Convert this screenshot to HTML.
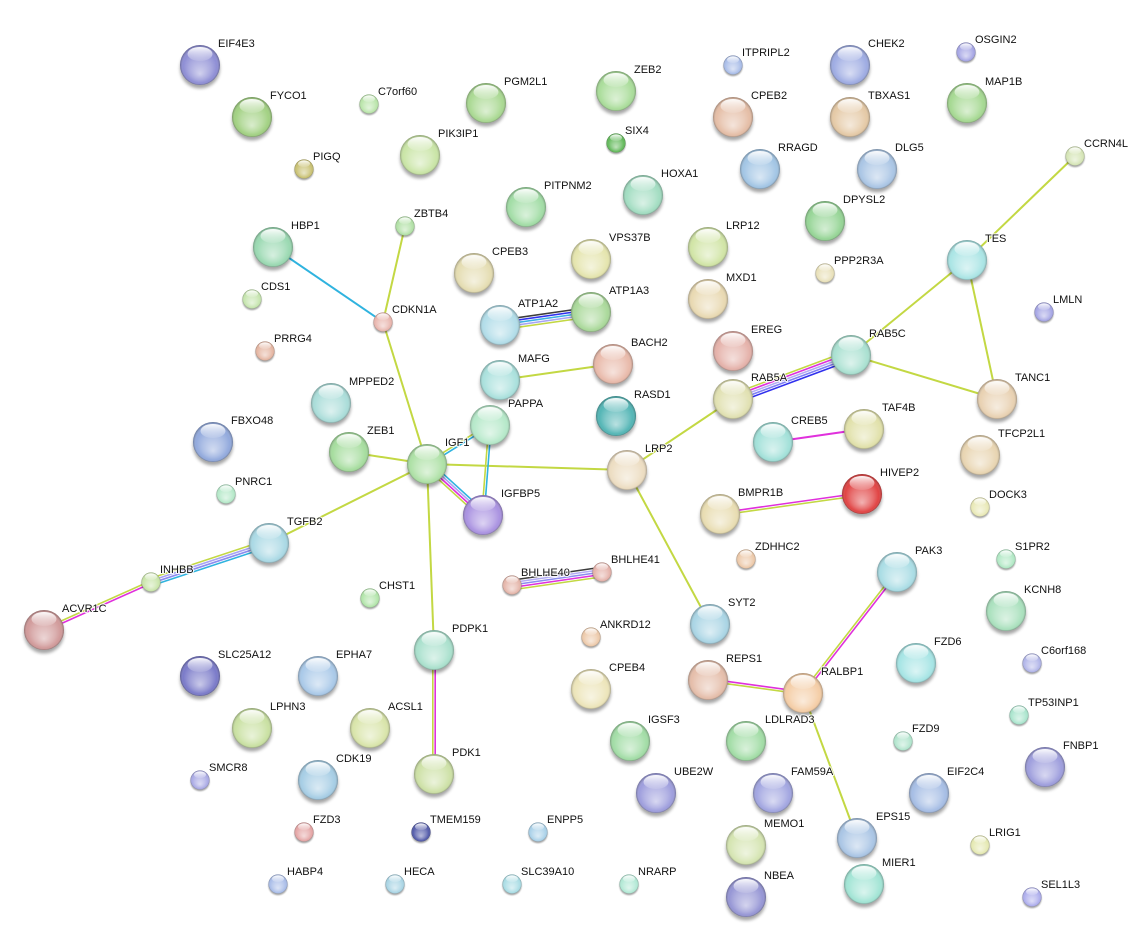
<!DOCTYPE html>
<html><head><meta charset="utf-8"><style>
html,body{margin:0;padding:0;background:#fff;}
svg{display:block;}
text{font-family:"Liberation Sans",Arial,sans-serif;font-size:11px;fill:#111;stroke:#fff;stroke-width:2.2px;stroke-opacity:0.85;paint-order:stroke;stroke-linejoin:round;}
</style></head><body>
<svg width="1146" height="942" viewBox="0 0 1146 942" xmlns="http://www.w3.org/2000/svg">
<defs>
<filter id="bl" x="-50%" y="-50%" width="200%" height="200%"><feGaussianBlur stdDeviation="1.6"/></filter>
<radialGradient id="o" cx="0.5" cy="0.5" r="0.5" fx="0.5" fy="0.72">
<stop offset="0" stop-color="#fff" stop-opacity="0.6"/>
<stop offset="0.55" stop-color="#fff" stop-opacity="0.25"/>
<stop offset="0.84" stop-color="#fff" stop-opacity="0.02"/>
<stop offset="1" stop-color="#000" stop-opacity="0.3"/>
</radialGradient>
<linearGradient id="h" x1="0" y1="0" x2="0" y2="1">
<stop offset="0" stop-color="#fff" stop-opacity="0.95"/>
<stop offset="1" stop-color="#fff" stop-opacity="0.1"/>
</linearGradient>
<g id="n">
<circle cy="3.5" r="20" fill="#000" opacity="0.35" filter="url(#bl)"/>
<circle r="20" fill="currentColor"/>
<circle r="20" fill="url(#o)"/>
<ellipse cy="-11" rx="12.5" ry="7" fill="url(#h)"/>
</g>
</defs>

<!-- edges -->
<g stroke-width="2" fill="none" stroke-linecap="butt">
<g stroke="#c3d843">
<line x1="405" y1="226" x2="383" y2="322"/>
<line x1="383" y1="322" x2="427" y2="464"/>
<line x1="500" y1="380" x2="613" y2="364"/>
<line x1="349" y1="452" x2="427" y2="464"/>
<line x1="427" y1="464" x2="627" y2="470"/>
<line x1="427" y1="464" x2="269" y2="543"/>
<line x1="427" y1="464" x2="434" y2="650"/>
<line x1="627" y1="470" x2="733" y2="399"/>
<line x1="627" y1="470" x2="710" y2="624"/>
<line x1="851" y1="355" x2="997" y2="399"/>
<line x1="851" y1="355" x2="967" y2="260"/>
<line x1="967" y1="260" x2="1075" y2="156"/>
<line x1="967" y1="260" x2="997" y2="399"/>
<line x1="803" y1="693" x2="857" y2="838"/>
</g>
<line x1="273" y1="247" x2="383" y2="322" stroke="#2fb3df"/>
<line x1="773" y1="442" x2="864" y2="429" stroke="#e030dc"/>
</g>

<g stroke-width="1.6" fill="none">
<g transform="translate(500,325) rotate(-8.13)">
<line x1="0" y1="-4.8" x2="92" y2="-4.8" stroke="#3c3c3c"/>
<line x1="0" y1="-2.4" x2="92" y2="-2.4" stroke="#3030ee"/>
<line x1="0" y1="0" x2="92" y2="0" stroke="#3cb0e4"/>
<line x1="0" y1="2.4" x2="92" y2="2.4" stroke="#a8a4f4"/>
<line x1="0" y1="4.8" x2="92" y2="4.8" stroke="#c3d843"/>
</g>
<g transform="translate(490,425) rotate(94.45)">
<line x1="0" y1="-1.2" x2="90" y2="-1.2" stroke="#2fb3df"/>
<line x1="0" y1="1.2" x2="90" y2="1.2" stroke="#c3d843"/>
</g>
<g transform="translate(427,464) rotate(-31.76)">
<line x1="0" y1="-1.2" x2="74" y2="-1.2" stroke="#c3d843"/>
<line x1="0" y1="1.2" x2="74" y2="1.2" stroke="#2fb3df"/>
</g>
<g transform="translate(427,464) rotate(42.32)">
<line x1="0" y1="-3.6" x2="76" y2="-3.6" stroke="#2fb3df"/>
<line x1="0" y1="-1.2" x2="76" y2="-1.2" stroke="#a8a4f4"/>
<line x1="0" y1="1.2" x2="76" y2="1.2" stroke="#e030dc"/>
<line x1="0" y1="3.6" x2="76" y2="3.6" stroke="#c3d843"/>
</g>
<g transform="translate(269,543) rotate(161.71)">
<line x1="0" y1="3.6" x2="124" y2="3.6" stroke="#c3d843"/>
<line x1="0" y1="1.2" x2="124" y2="1.2" stroke="#a8a4f4"/>
<line x1="0" y1="-1.2" x2="124" y2="-1.2" stroke="#8c8cf0"/>
<line x1="0" y1="-3.6" x2="124" y2="-3.6" stroke="#2fb3df"/>
</g>
<g transform="translate(151,582) rotate(155.84)">
<line x1="0" y1="1.2" x2="117" y2="1.2" stroke="#c3d843"/>
<line x1="0" y1="-1.2" x2="117" y2="-1.2" stroke="#e030dc"/>
</g>
<g transform="translate(434,650) rotate(90)">
<line x1="0" y1="1.2" x2="124" y2="1.2" stroke="#c3d843"/>
<line x1="0" y1="-1.2" x2="124" y2="-1.2" stroke="#e030dc"/>
</g>
<g transform="translate(733,399) rotate(-20.45)">
<line x1="0" y1="-4.8" x2="126" y2="-4.8" stroke="#c3d843"/>
<line x1="0" y1="-2.4" x2="126" y2="-2.4" stroke="#e030dc"/>
<line x1="0" y1="0" x2="126" y2="0" stroke="#b4acf4"/>
<line x1="0" y1="2.4" x2="126" y2="2.4" stroke="#8080f4"/>
<line x1="0" y1="4.8" x2="126" y2="4.8" stroke="#3030ee"/>
</g>
<g transform="translate(720,514) rotate(-8.02)">
<line x1="0" y1="-1.2" x2="143" y2="-1.2" stroke="#e030dc"/>
<line x1="0" y1="1.2" x2="143" y2="1.2" stroke="#c3d843"/>
</g>
<g transform="translate(512,585) rotate(-8.22)">
<line x1="0" y1="-4.8" x2="91" y2="-4.8" stroke="#3c3c3c"/>
<line x1="0" y1="-2.4" x2="91" y2="-2.4" stroke="#b4acf4"/>
<line x1="0" y1="0" x2="91" y2="0" stroke="#8c8cf0"/>
<line x1="0" y1="2.4" x2="91" y2="2.4" stroke="#e030dc"/>
<line x1="0" y1="4.8" x2="91" y2="4.8" stroke="#c3d843"/>
</g>
<g transform="translate(897,572) rotate(127.84)">
<line x1="0" y1="1.2" x2="153" y2="1.2" stroke="#c3d843"/>
<line x1="0" y1="-1.2" x2="153" y2="-1.2" stroke="#e030dc"/>
</g>
<g transform="translate(708,680) rotate(7.79)">
<line x1="0" y1="-1.2" x2="96" y2="-1.2" stroke="#e030dc"/>
<line x1="0" y1="1.2" x2="96" y2="1.2" stroke="#c3d843"/>
</g>
</g>

<!-- nodes -->
<use href="#n" transform="translate(200,65)" color="#8c8cd4"/>
<use href="#n" transform="translate(252,117)" color="#a0d080"/>
<use href="#n" transform="translate(369,104) scale(0.48)" color="#b8e4a8"/>
<use href="#n" transform="translate(486,103)" color="#a8d890"/>
<use href="#n" transform="translate(616,91)" color="#a8dc98"/>
<use href="#n" transform="translate(733,65) scale(0.48)" color="#a8bce8"/>
<use href="#n" transform="translate(850,65)" color="#9caae2"/>
<use href="#n" transform="translate(966,52) scale(0.48)" color="#a4a4e4"/>
<use href="#n" transform="translate(967,103)" color="#a4d890"/>
<use href="#n" transform="translate(733,117)" color="#e4bca4"/>
<use href="#n" transform="translate(850,117)" color="#e4c8a4"/>
<use href="#n" transform="translate(304,169) scale(0.48)" color="#c8c070"/>
<use href="#n" transform="translate(420,155)" color="#c8e4a4"/>
<use href="#n" transform="translate(616,143) scale(0.48)" color="#60b858"/>
<use href="#n" transform="translate(643,195)" color="#a0dcc0"/>
<use href="#n" transform="translate(760,169)" color="#a0c4e4"/>
<use href="#n" transform="translate(877,169)" color="#a8c4e4"/>
<use href="#n" transform="translate(1075,156) scale(0.48)" color="#d4e4b4"/>
<use href="#n" transform="translate(526,207)" color="#a0dca4"/>
<use href="#n" transform="translate(825,221)" color="#94d494"/>
<use href="#n" transform="translate(405,226) scale(0.48)" color="#b0e0a4"/>
<use href="#n" transform="translate(273,247)" color="#98d8b0"/>
<use href="#n" transform="translate(708,247)" color="#d0e4a4"/>
<use href="#n" transform="translate(591,259)" color="#e4e4ac"/>
<use href="#n" transform="translate(474,273)" color="#e4dcb0"/>
<use href="#n" transform="translate(967,260)" color="#a8e4e4"/>
<use href="#n" transform="translate(825,273) scale(0.48)" color="#e8e0b8"/>
<use href="#n" transform="translate(708,299)" color="#e8d8b0"/>
<use href="#n" transform="translate(252,299) scale(0.48)" color="#c4e4ac"/>
<use href="#n" transform="translate(500,325)" color="#b0dce8"/>
<use href="#n" transform="translate(591,312)" color="#a8d898"/>
<use href="#n" transform="translate(1044,312) scale(0.48)" color="#a4a4e4"/>
<use href="#n" transform="translate(383,322) scale(0.48)" color="#e8b4ac"/>
<use href="#n" transform="translate(265,351) scale(0.48)" color="#e4b4a0"/>
<use href="#n" transform="translate(733,351)" color="#e4b0a8"/>
<use href="#n" transform="translate(851,355)" color="#a8e0d0"/>
<use href="#n" transform="translate(613,364)" color="#e8b8a8"/>
<use href="#n" transform="translate(500,380)" color="#a8e0dc"/>
<use href="#n" transform="translate(331,403)" color="#a8dcd8"/>
<use href="#n" transform="translate(733,399)" color="#e0e0b0"/>
<use href="#n" transform="translate(997,399)" color="#e8d0b0"/>
<use href="#n" transform="translate(616,416)" color="#50b4b4"/>
<use href="#n" transform="translate(490,425)" color="#b4e8c8"/>
<use href="#n" transform="translate(213,442)" color="#90a8dc"/>
<use href="#n" transform="translate(864,429)" color="#e0e0a8"/>
<use href="#n" transform="translate(773,442)" color="#a0e0d8"/>
<use href="#n" transform="translate(349,452)" color="#a4dc9c"/>
<use href="#n" transform="translate(980,455)" color="#e8d4b0"/>
<use href="#n" transform="translate(427,464)" color="#ace0a4"/>
<use href="#n" transform="translate(627,470)" color="#ecdcc0"/>
<use href="#n" transform="translate(226,494) scale(0.48)" color="#b4e8c8"/>
<use href="#n" transform="translate(862,494)" color="#e04040"/>
<use href="#n" transform="translate(483,515)" color="#a890e0"/>
<use href="#n" transform="translate(720,514)" color="#e8dcb0"/>
<use href="#n" transform="translate(980,507) scale(0.48)" color="#e8e8b4"/>
<use href="#n" transform="translate(269,543)" color="#a8d8e4"/>
<use href="#n" transform="translate(746,559) scale(0.48)" color="#ecc8a8"/>
<use href="#n" transform="translate(1006,559) scale(0.48)" color="#b0e8c4"/>
<use href="#n" transform="translate(897,572)" color="#a8dce4"/>
<use href="#n" transform="translate(512,585) scale(0.48)" color="#e4b4a8"/>
<use href="#n" transform="translate(602,572) scale(0.48)" color="#e4b0a8"/>
<use href="#n" transform="translate(151,582) scale(0.48)" color="#c8e4a8"/>
<use href="#n" transform="translate(370,598) scale(0.48)" color="#b0e4a8"/>
<use href="#n" transform="translate(1006,611)" color="#a8e0bc"/>
<use href="#n" transform="translate(710,624)" color="#a8d4e4"/>
<use href="#n" transform="translate(44,630)" color="#d09898"/>
<use href="#n" transform="translate(591,637) scale(0.48)" color="#ecc8a8"/>
<use href="#n" transform="translate(434,650)" color="#a8e0cc"/>
<use href="#n" transform="translate(1032,663) scale(0.48)" color="#b0b4e8"/>
<use href="#n" transform="translate(916,663)" color="#a4e4e4"/>
<use href="#n" transform="translate(200,676)" color="#7878c8"/>
<use href="#n" transform="translate(318,676)" color="#a8c8e8"/>
<use href="#n" transform="translate(708,680)" color="#e4bca8"/>
<use href="#n" transform="translate(591,689)" color="#ece4b8"/>
<use href="#n" transform="translate(803,693)" color="#f4cca4"/>
<use href="#n" transform="translate(252,728)" color="#c8e0a0"/>
<use href="#n" transform="translate(370,728)" color="#d8e4a8"/>
<use href="#n" transform="translate(1019,715) scale(0.48)" color="#a8e4cc"/>
<use href="#n" transform="translate(630,741)" color="#a0dca4"/>
<use href="#n" transform="translate(746,741)" color="#a0dca4"/>
<use href="#n" transform="translate(903,741) scale(0.48)" color="#b0e4cc"/>
<use href="#n" transform="translate(200,780) scale(0.48)" color="#a8a8e4"/>
<use href="#n" transform="translate(318,780)" color="#a4cce4"/>
<use href="#n" transform="translate(434,774)" color="#cce0a4"/>
<use href="#n" transform="translate(1045,767)" color="#9c9cdc"/>
<use href="#n" transform="translate(656,793)" color="#9c9cdc"/>
<use href="#n" transform="translate(773,793)" color="#a0a4e0"/>
<use href="#n" transform="translate(929,793)" color="#a4bce4"/>
<use href="#n" transform="translate(304,832) scale(0.48)" color="#e4a4a4"/>
<use href="#n" transform="translate(421,832) scale(0.48)" color="#5058a8"/>
<use href="#n" transform="translate(538,832) scale(0.48)" color="#a8d0e8"/>
<use href="#n" transform="translate(746,845)" color="#d4e4b0"/>
<use href="#n" transform="translate(857,838)" color="#a8c4e4"/>
<use href="#n" transform="translate(980,845) scale(0.48)" color="#e4e8b0"/>
<use href="#n" transform="translate(864,884)" color="#a0e4d4"/>
<use href="#n" transform="translate(278,884) scale(0.48)" color="#a8bce8"/>
<use href="#n" transform="translate(395,884) scale(0.48)" color="#a8d4e4"/>
<use href="#n" transform="translate(512,884) scale(0.48)" color="#a8dce4"/>
<use href="#n" transform="translate(629,884) scale(0.48)" color="#b0e8d4"/>
<use href="#n" transform="translate(746,897)" color="#9494d4"/>
<use href="#n" transform="translate(1032,897) scale(0.48)" color="#acacec"/>

<!-- labels -->
<g>
<text x="218" y="47">EIF4E3</text>
<text x="270" y="99">FYCO1</text>
<text x="378" y="95">C7orf60</text>
<text x="504" y="85">PGM2L1</text>
<text x="634" y="73">ZEB2</text>
<text x="742" y="56">ITPRIPL2</text>
<text x="868" y="47">CHEK2</text>
<text x="975" y="43">OSGIN2</text>
<text x="985" y="85">MAP1B</text>
<text x="751" y="99">CPEB2</text>
<text x="868" y="99">TBXAS1</text>
<text x="313" y="160">PIGQ</text>
<text x="438" y="137">PIK3IP1</text>
<text x="625" y="134">SIX4</text>
<text x="661" y="177">HOXA1</text>
<text x="778" y="151">RRAGD</text>
<text x="895" y="151">DLG5</text>
<text x="1084" y="147">CCRN4L</text>
<text x="544" y="189">PITPNM2</text>
<text x="843" y="203">DPYSL2</text>
<text x="414" y="217">ZBTB4</text>
<text x="291" y="229">HBP1</text>
<text x="726" y="229">LRP12</text>
<text x="609" y="241">VPS37B</text>
<text x="492" y="255">CPEB3</text>
<text x="985" y="242">TES</text>
<text x="834" y="264">PPP2R3A</text>
<text x="726" y="281">MXD1</text>
<text x="261" y="290">CDS1</text>
<text x="518" y="307">ATP1A2</text>
<text x="609" y="294">ATP1A3</text>
<text x="1053" y="303">LMLN</text>
<text x="392" y="313">CDKN1A</text>
<text x="274" y="342">PRRG4</text>
<text x="751" y="333">EREG</text>
<text x="869" y="337">RAB5C</text>
<text x="631" y="346">BACH2</text>
<text x="518" y="362">MAFG</text>
<text x="349" y="385">MPPED2</text>
<text x="751" y="381">RAB5A</text>
<text x="1015" y="381">TANC1</text>
<text x="634" y="398">RASD1</text>
<text x="508" y="407">PAPPA</text>
<text x="231" y="424">FBXO48</text>
<text x="882" y="411">TAF4B</text>
<text x="791" y="424">CREB5</text>
<text x="367" y="434">ZEB1</text>
<text x="998" y="437">TFCP2L1</text>
<text x="445" y="446">IGF1</text>
<text x="645" y="452">LRP2</text>
<text x="235" y="485">PNRC1</text>
<text x="880" y="476">HIVEP2</text>
<text x="501" y="497">IGFBP5</text>
<text x="738" y="496">BMPR1B</text>
<text x="989" y="498">DOCK3</text>
<text x="287" y="525">TGFB2</text>
<text x="755" y="550">ZDHHC2</text>
<text x="1015" y="550">S1PR2</text>
<text x="915" y="554">PAK3</text>
<text x="521" y="576">BHLHE40</text>
<text x="611" y="563">BHLHE41</text>
<text x="160" y="573">INHBB</text>
<text x="379" y="589">CHST1</text>
<text x="1024" y="593">KCNH8</text>
<text x="728" y="606">SYT2</text>
<text x="62" y="612">ACVR1C</text>
<text x="600" y="628">ANKRD12</text>
<text x="452" y="632">PDPK1</text>
<text x="1041" y="654">C6orf168</text>
<text x="934" y="645">FZD6</text>
<text x="218" y="658">SLC25A12</text>
<text x="336" y="658">EPHA7</text>
<text x="726" y="662">REPS1</text>
<text x="609" y="671">CPEB4</text>
<text x="821" y="675">RALBP1</text>
<text x="270" y="710">LPHN3</text>
<text x="388" y="710">ACSL1</text>
<text x="1028" y="706">TP53INP1</text>
<text x="648" y="723">IGSF3</text>
<text x="765" y="723">LDLRAD3</text>
<text x="912" y="732">FZD9</text>
<text x="209" y="771">SMCR8</text>
<text x="336" y="762">CDK19</text>
<text x="452" y="756">PDK1</text>
<text x="1063" y="749">FNBP1</text>
<text x="674" y="775">UBE2W</text>
<text x="791" y="775">FAM59A</text>
<text x="947" y="775">EIF2C4</text>
<text x="313" y="823">FZD3</text>
<text x="430" y="823">TMEM159</text>
<text x="547" y="823">ENPP5</text>
<text x="764" y="827">MEMO1</text>
<text x="876" y="820">EPS15</text>
<text x="989" y="836">LRIG1</text>
<text x="882" y="866">MIER1</text>
<text x="287" y="875">HABP4</text>
<text x="404" y="875">HECA</text>
<text x="521" y="875">SLC39A10</text>
<text x="638" y="875">NRARP</text>
<text x="764" y="879">NBEA</text>
<text x="1041" y="888">SEL1L3</text>
</g>
</svg>
</body></html>
